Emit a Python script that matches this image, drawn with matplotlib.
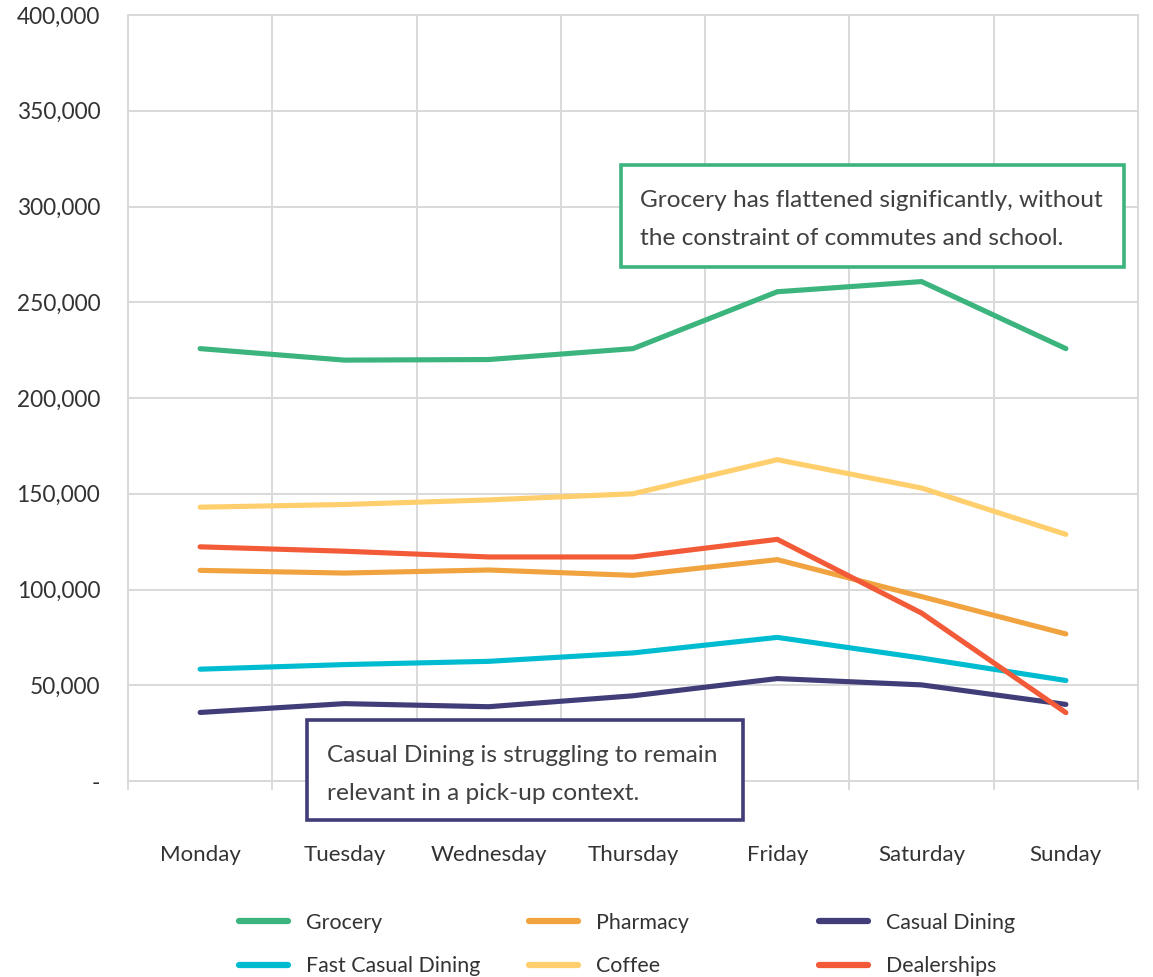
import matplotlib
matplotlib.use("Agg")
import matplotlib.pyplot as plt
from matplotlib.patches import Rectangle
from matplotlib.lines import Line2D
from matplotlib.ticker import FuncFormatter, MultipleLocator, FixedLocator

plt.rcParams["font.family"] = ["Lato", "DejaVu Sans"]

days = ["Monday", "Tuesday", "Wednesday", "Thursday", "Friday", "Saturday", "Sunday"]

grocery = [225800, 219800, 220100, 225800, 255500, 260800, 225800]
pharmacy = [110000, 108600, 110200, 107400, 115600, 96300, 76800]
casual_dining = [35800, 40400, 38800, 44500, 53500, 50200, 40000]
fast_casual_dining = [58400, 60800, 62500, 66900, 75000, 64200, 52500]
coffee = [143000, 144400, 146800, 150000, 167800, 153000, 128800]
dealerships = [122300, 120000, 117000, 117000, 126200, 87700, 35700]

series_names = ["Grocery", "Pharmacy", "Casual Dining",
                "Fast Casual Dining", "Coffee", "Dealerships"]
series_values = [grocery, pharmacy, casual_dining,
                 fast_casual_dining, coffee, dealerships]
series_colors = ["#3BB47E", "#F0A33E", "#403D78",
                 "#00BCD0", "#FFCF6E", "#F25A38"]

note_grocery = "Grocery has flattened significantly, without\nthe constraint of commutes and school."
note_casual = "Casual Dining is struggling to remain\nrelevant in a pick-up context."

GRID = "#D9D9D9"
TXT = "#333333"

fig = plt.figure(figsize=(11.53, 9.77), dpi=100)
ax = fig.add_axes([0.111, 0.2006, 0.876, 0.784])

x = list(range(len(days)))
# draw order: so that Dealerships sits on top of the others
draw_order = [0, 4, 1, 3, 2, 5]
for i in draw_order:
    ax.plot(x, series_values[i], color=series_colors[i], lw=3.7,
            solid_capstyle="round", solid_joinstyle="miter", zorder=3)

ax.set_xlim(-0.5, len(days) - 0.5)
ax.set_ylim(0, 400000)

ax.yaxis.set_major_locator(MultipleLocator(50000))
ax.yaxis.set_major_formatter(FuncFormatter(lambda v, p: "-" if v == 0 else f"{v:,.0f}"))
ax.tick_params(axis="y", length=0, pad=20, labelsize=16.3, labelcolor=TXT)

ax.set_xticks(x)
ax.set_xticklabels(days)
ax.xaxis.set_minor_locator(FixedLocator([i - 0.5 for i in range(len(days) + 1)]))
ax.tick_params(axis="x", which="major", length=0, pad=46, labelsize=16, labelcolor=TXT)
ax.tick_params(axis="x", which="minor", length=6.5, width=1.4, color=GRID, direction="out")

ax.grid(axis="y", which="major", color=GRID, lw=1.4, zorder=0)
ax.grid(axis="x", which="minor", color=GRID, lw=1.4, zorder=0)
ax.set_axisbelow(True)
for s in ax.spines.values():
    s.set_color(GRID)
    s.set_linewidth(1.4)

# callout boxes
def callout(x0, y0, w, h, color, text, tx, ty):
    fig.patches.append(Rectangle((x0, y0), w, h, transform=fig.transFigure,
                                 facecolor="white", edgecolor=color, lw=2.6, zorder=5))
    fig.text(tx, ty, text, ha="left", va="center", fontsize=17.6, color="#404040",
             linespacing=2.05, zorder=6)

callout(0.5386, 0.7267, 0.4363, 0.1044, series_colors[0], note_grocery, 0.5551, 0.7753)
callout(0.2663, 0.1607, 0.3781, 0.1024, series_colors[2], note_casual, 0.2836, 0.2073)

# legend: three fixed-width columns
handles = [Line2D([], [], color=c, lw=4.5, solid_capstyle="round") for c in series_colors]
col_x = [239 / 1153, 529 / 1153, 819 / 1153]
for col in range(3):
    idx = [col, col + 3]
    fig.legend([handles[i] for i in idx], [series_names[i] for i in idx],
               loc="center left", bbox_to_anchor=(col_x[col], 1 - 944.5 / 977),
               frameon=False, fontsize=15.4, labelcolor=TXT, borderpad=0,
               borderaxespad=0, handlelength=2.3, handletextpad=0.85,
               labelspacing=1.12)

fig.savefig("out.png", dpi=100)
